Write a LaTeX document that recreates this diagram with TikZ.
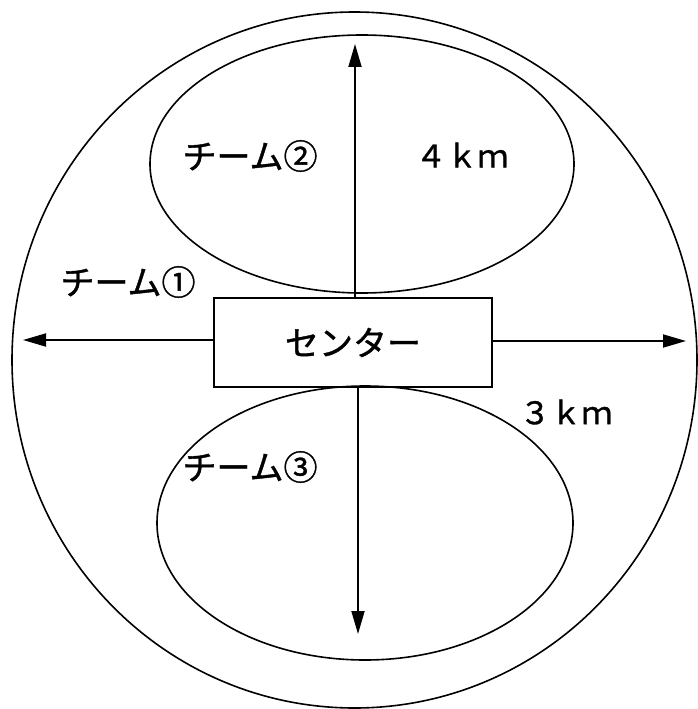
\documentclass[tikz,border=0pt]{standalone}
\usepackage{fontspec}
\newfontfamily\jpfont[FakeBold=1.2]{Noto Sans CJK JP}
\usepackage{xcolor}
\definecolor{cLine}{HTML}{000000}
\usetikzlibrary{positioning,arrows.meta}
\tikzset{
  zone-line/.style={draw=cLine,line width=1.6pt},
  node-center/.style={draw=cLine,line width=1.4pt,minimum width=278pt,
    minimum height=89pt,inner sep=0pt,font=\jpfont\fontsize{34}{38}\selectfont},
  node-label/.style={inner sep=0pt,font=\jpfont\fontsize{34}{38}\selectfont},
  node-dist/.style={inner sep=0pt,font=\jpfont\fontsize{31}{36}\selectfont},
  arrow/.style={-{Triangle[length=23pt,width=13pt]},line width=1.8pt,draw=cLine},
}
\begin{document}
\begin{tikzpicture}[x=1pt,y=-1pt]
  \useasboundingbox (0,0) rectangle (698,709);
  % zones
  \draw[zone-line] (354.5,360) ellipse [x radius=342.5,y radius=348];
  \draw[zone-line] (362,164) ellipse [x radius=212,y radius=129];
  \draw[zone-line] (365,523) ellipse [x radius=208,y radius=137];
  \node[node-center] (center) at (353,342.5) {センター};
  % arrow tips
  \coordinate (tip-n) at (355,44);
  \coordinate (tip-s) at (358,634);
  \coordinate (tip-w) at (23,340);
  \coordinate (tip-e) at (686,341);
  \draw[arrow] (center.north -| tip-n) -- (tip-n);
  \draw[arrow] (center.south -| tip-s) -- (tip-s);
  \draw[arrow] (center.west |- tip-w) -- (tip-w);
  \draw[arrow] (center.east |- tip-e) -- (tip-e);
  % labels
  \node[node-label] (team-1) at (128,282) {チーム①};
  \node[node-label] (team-2) at (250,156) {チーム②};
  \node[node-label] (team-3) at (250,467) {チーム③};
  \node[node-dist] (dist-4) at (462,155) {４ｋｍ};
  \node[node-dist] (dist-3) at (566,412) {３ｋｍ};
\end{tikzpicture}
\end{document}
